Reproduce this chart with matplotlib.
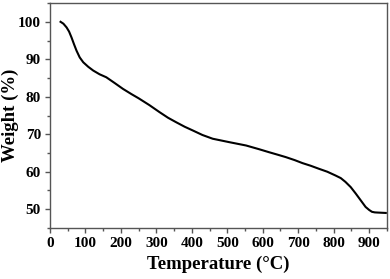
import numpy as np
import matplotlib.pyplot as plt
from matplotlib.ticker import MultipleLocator

temperatura = [30, 38, 47, 54, 61, 68, 75, 84, 94, 108, 122, 140, 159, 182, 206, 230,
               250, 280, 309, 333, 356, 380, 403, 430, 459, 505, 553, 590, 618, 640,
               665, 690, 712, 735, 758, 782, 805, 820, 833, 848, 862, 876, 890, 900,
               908, 916, 925, 947]
peso = [100.0, 99.5, 98.5, 97.4, 95.8, 94.0, 92.3, 90.5, 89.2, 88.0, 87.0, 86.0, 85.2,
        83.7, 82.1, 80.7, 79.6, 77.8, 75.9, 74.4, 73.2, 72.0, 71.0, 69.8, 68.8, 67.9,
        67.0, 66.0, 65.2, 64.6, 63.9, 63.1, 62.3, 61.6, 60.8, 60.0, 59.0, 58.3, 57.3,
        55.9, 54.2, 52.4, 50.6, 49.8, 49.3, 49.15, 49.1, 49.0]

plt.rcParams['font.family'] = ['Liberation Serif', 'DejaVu Serif']

fig, ax = plt.subplots(figsize=(3.9, 2.79), dpi=100)
ax.plot(temperatura, peso, color='black', linewidth=1.5)

ax.set_xlim(0, 950)
ax.set_ylim(45, 105)
ax.xaxis.set_major_locator(MultipleLocator(100))
ax.xaxis.set_minor_locator(MultipleLocator(50))
ax.yaxis.set_major_locator(MultipleLocator(10))
ax.yaxis.set_minor_locator(MultipleLocator(5))
ax.tick_params(which='both', direction='out', top=False, right=False,
               labelsize=11, width=1, colors='#555555', labelcolor='black')
ax.tick_params(which='major', length=3.5, pad=3)
ax.tick_params(which='minor', length=2)
for lbl in ax.get_xticklabels() + ax.get_yticklabels():
    lbl.set_fontweight('bold')
for s in ax.spines.values():
    s.set_color('#555555')
    s.set_linewidth(1)

ax.set_xlabel('Temperature (°C)', fontsize=13.5, fontweight='bold', labelpad=4)
ax.set_ylabel('Weight (%)', fontsize=13.5, fontweight='bold')
ax.yaxis.set_label_coords(-0.093, 0.5)

plt.subplots_adjust(left=0.128, right=0.992, top=0.989, bottom=0.183)
plt.savefig('out.png')
